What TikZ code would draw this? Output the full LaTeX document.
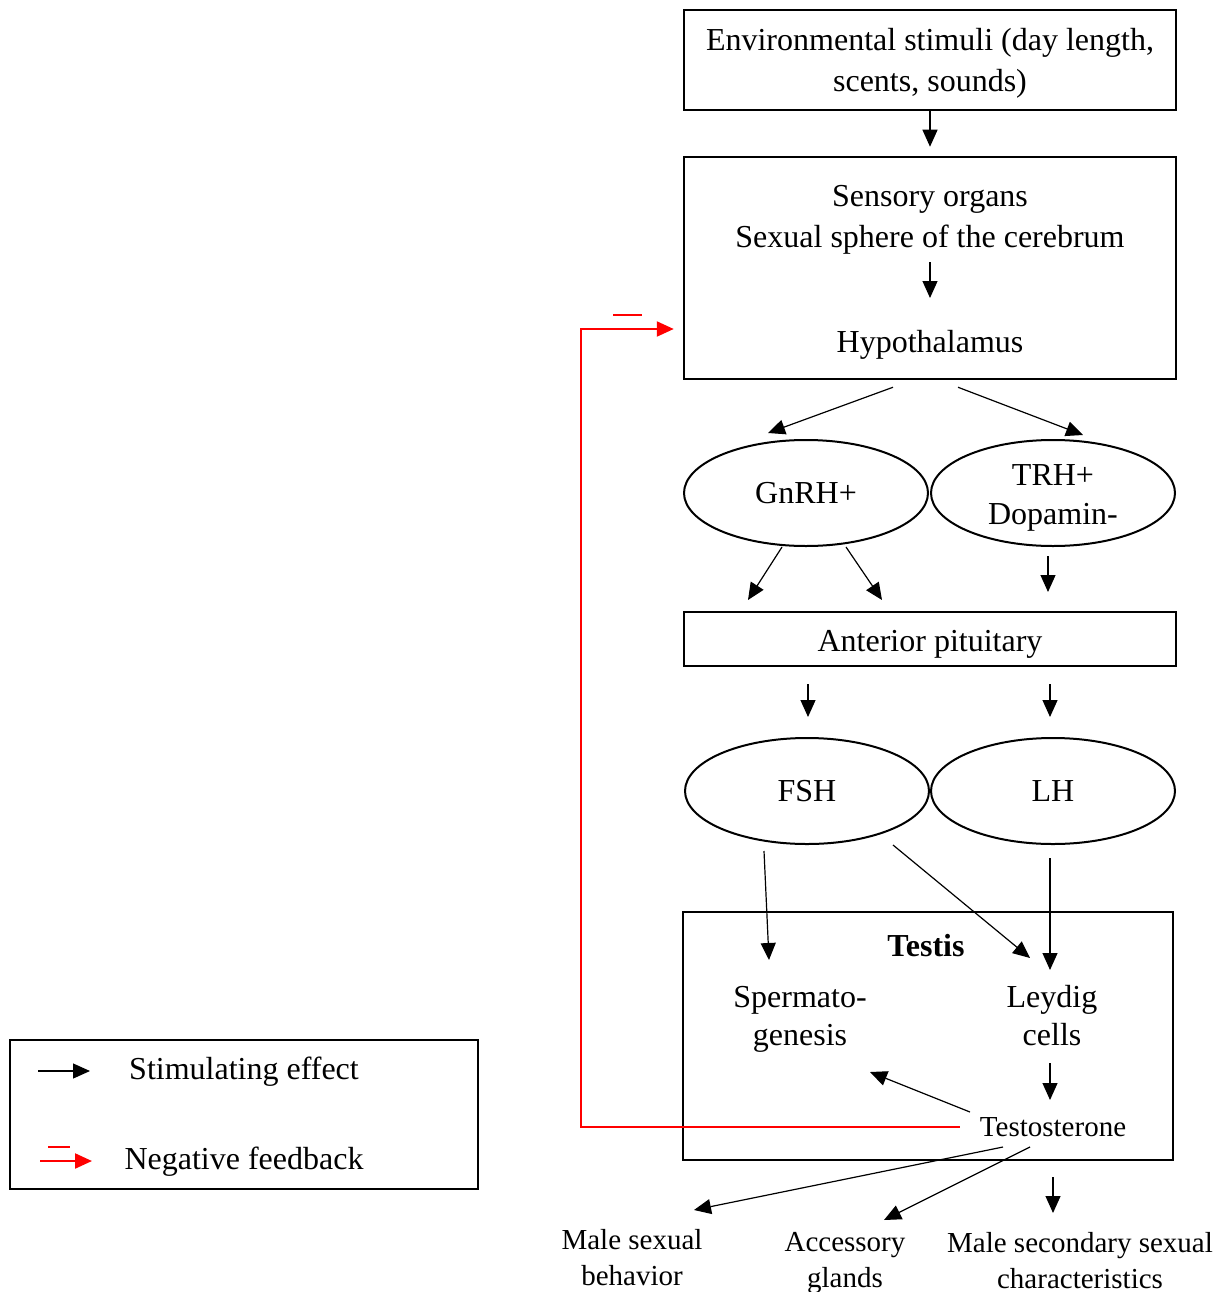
\documentclass[tikz,border=0pt]{standalone}
\usepackage{fontspec}
\setmainfont{Liberation Serif}
\usepackage{tikz}
\usetikzlibrary{arrows.meta,shapes.geometric,positioning}

\begin{document}
\begin{tikzpicture}[x=1pt,y=-1pt]
\tikzstyle{BoxStyle}=[draw, line width=2.5pt, rectangle, inner sep=0pt]
\tikzstyle{EllStyle}=[draw, line width=2pt, ellipse, minimum width=244pt, minimum height=106pt, inner sep=0pt, align=center, font=\fontsize{32}{39}\selectfont]
\tikzstyle{TxtStyle}=[align=center, inner sep=0pt, font=\fontsize{32}{41}\selectfont]
\tikzstyle{SmallTxt}=[align=center, inner sep=0pt, font=\fontsize{29}{36}\selectfont]
\tikzstyle{Stim}=[-{Triangle[length=17pt,width=15pt]}, line width=1.2pt]
\tikzstyle{Neg}=[red, line width=2.2pt, -{Triangle[length=17pt,width=15pt]}]

\useasboundingbox (0,0) rectangle (1223,1292);

% boxes and ellipses
\node (envbox) [BoxStyle, minimum width=492pt, minimum height=100pt] at (930,60) {};
\node (env) [TxtStyle] at (930,63) {Environmental stimuli (day length,\\scents, sounds)};
\node (brain) [BoxStyle, minimum width=492pt, minimum height=222pt] at (930,268) {};
\node (sens) [TxtStyle] at (930,220) {Sensory organs\\Sexual sphere of the cerebrum};
\node (hypo) [TxtStyle] at (930,345) {Hypothalamus};

\node (gnrh) [EllStyle] at (806,493) {GnRH+};
\node (trh) [EllStyle] at (1053,493) {};
\node (trhtxt) [TxtStyle, font=\fontsize{32}{39}\selectfont] at (1053,498) {TRH+\\Dopamin-};

\node (antbox) [BoxStyle, minimum width=492pt, minimum height=54pt] at (930,639) {};
\node (ant) [TxtStyle] at (930,644) {Anterior pituitary};

\node (fsh) [EllStyle] at (807,791) {FSH};
\node (lh) [EllStyle] at (1053,791) {LH};

\node (testis) [BoxStyle, minimum width=490pt, minimum height=248pt] at (928,1036) {};
\node (testlbl) [TxtStyle, font=\fontsize{32}{41}\selectfont\bfseries] at (926,946) {Testis};
\node (sperm) [TxtStyle, font=\fontsize{32}{38}\selectfont] at (800,1019) {Spermato-\\genesis};
\node (leydig) [TxtStyle, font=\fontsize{32}{38}\selectfont] at (1052,1016) {Leydig\\cells};
\node (testo) [SmallTxt] at (1053,1127) {Testosterone};

\node (beh) [SmallTxt] at (632,1258) {Male sexual\\behavior};
\node (glands) [SmallTxt] at (845,1263) {Accessory\\glands};
\node (sec) [SmallTxt] at (1080,1261) {Male secondary sexual\\characteristics};

% stimulating arrows
\draw[Stim] (envbox.south) -- ([yshift=9pt]brain.north);
\draw[Stim] ([yshift=-42pt]sens.center) -- ([yshift=47pt]hypo.center);
\draw[Stim] ([xshift=-37pt,yshift=-7pt]brain.south) -- ([xshift=-38pt,yshift=60pt]gnrh.center);
\draw[Stim] ([xshift=28pt,yshift=-7pt]brain.south) -- ([xshift=30pt,yshift=58pt]trh.center);
\draw[Stim] ([xshift=-24pt,yshift=-54pt]gnrh.center) -- ([xshift=-182pt,yshift=39pt]antbox.center);
\draw[Stim] ([xshift=40pt,yshift=-54pt]gnrh.center) -- ([xshift=-48pt,yshift=39pt]antbox.center);
\draw[Stim] ([xshift=-5pt,yshift=-63pt]trh.center) -- ([xshift=118pt,yshift=47pt]antbox.center);
\draw[Stim] ([xshift=-122pt,yshift=-17pt]antbox.south) -- ([xshift=1pt,yshift=20pt]fsh.north);
\draw[Stim] ([xshift=120pt,yshift=-17pt]antbox.south) -- ([xshift=-3pt,yshift=20pt]lh.north);
\draw[Stim] ([xshift=-43pt,yshift=-6pt]fsh.south) -- ([xshift=-31pt,yshift=59pt]sperm.center);
\draw[Stim] ([xshift=86pt,yshift=-54pt]fsh.center) -- ([xshift=-22pt,yshift=58pt]leydig.center);
\draw[Stim] ([xshift=-3pt,yshift=-13pt]lh.south) -- ([xshift=-2pt,yshift=46pt]leydig.center);
\draw[Stim] ([xshift=-2pt,yshift=-47pt]leydig.center) -- ([xshift=-3pt,yshift=27pt]testo.center);
\draw[Stim] ([xshift=-83pt,yshift=15pt]testo.center) -- ([xshift=70pt,yshift=-53pt]sperm.center);
\draw[Stim] ([xshift=-50pt,yshift=-20pt]testo.center) -- ([xshift=62pt,yshift=48pt]beh.center);
\draw[Stim] ([xshift=-23pt,yshift=-20pt]testo.center) -- ([xshift=39pt,yshift=43pt]glands.center);
\draw[Stim] ([yshift=-50pt]testo.center) -- ([xshift=-27pt,yshift=48pt]sec.center);

% negative feedback
\coordinate (fb) at (581,329);
\draw[Neg] ([xshift=-20pt]testo.west) -| (fb) -- ([xshift=-9pt,yshift=-61pt]brain.west);
\draw[red, line width=2.2pt] (613,315) -- (642,315);

% legend
\node (legend) [BoxStyle, minimum width=468pt, minimum height=149pt] at (244,1114.5) {};
\node (stimtxt) [TxtStyle] at (244,1072) {Stimulating effect};
\node (negtxt) [TxtStyle] at (244,1162) {Negative feedback};
\draw[Stim] ([xshift=-206pt,yshift=1pt]stimtxt.center) -- ([xshift=-154pt,yshift=1pt]stimtxt.center);
\draw[Neg] ([xshift=-204pt,yshift=1pt]negtxt.center) -- ([xshift=-152pt,yshift=1pt]negtxt.center);
\draw[red, line width=2.2pt] ([xshift=-196pt,yshift=15pt]negtxt.center) -- ([xshift=-174pt,yshift=15pt]negtxt.center);
\end{tikzpicture}
\end{document}
